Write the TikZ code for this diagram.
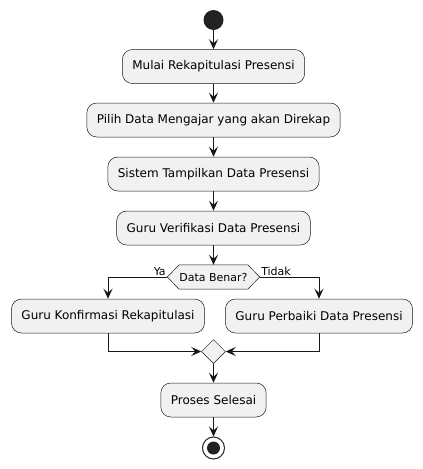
\documentclass[tikz,border=0pt]{standalone}
\usepackage{fontspec}
\setmainfont{DejaVu Sans}
\usepackage{tikz}
\usetikzlibrary{shapes.geometric}
\usetikzlibrary{arrows.meta}
\usetikzlibrary{calc}
\usetikzlibrary{backgrounds}
\definecolor{garis}{HTML}{181818}
\definecolor{isi}{HTML}{F1F1F1}
\definecolor{hitam}{HTML}{222222}

\begin{document}
\begin{tikzpicture}[x=1pt,y=-1pt,>={Stealth[length=10pt,width=9pt,inset=4pt]},
	act/.style={draw=garis,fill=isi,line width=0.5pt,rounded corners=10pt,
		minimum height=34pt,inner xsep=10pt,font=\fontsize{12}{14}\selectfont},
	cek/.style={minimum height=24pt,minimum width=68pt,inner sep=0pt,
		font=\fontsize{11}{13}\selectfont},
	gabung/.style={diamond,draw=garis,fill=isi,line width=0.5pt,minimum size=24pt,inner sep=0pt},
	mulai/.style={circle,fill=hitam,minimum size=20pt,inner sep=0pt},
	akhir/.style={circle,draw=hitam,fill=white,line width=1pt,minimum size=22pt,inner sep=0pt,
		path picture={\fill[hitam] (path picture bounding box.center) circle (6.5pt);}},
	label/.style={font=\fontsize{11}{13}\selectfont,inner sep=1pt}
	]
	\useasboundingbox (0,0) rectangle (423,469);
	\node[mulai] (start) at (213.5,20) {};
	\node[act] (rekap) at (213.5,66.5) {Mulai Rekapitulasi Presensi};
	\node[act] (pilih) at (213.5,120) {Pilih Data Mengajar yang akan Direkap};
	\node[act] (tampil) at (213.5,174) {Sistem Tampilkan Data Presensi};
	\node[act] (verif) at (213.5,228) {Guru Verifikasi Data Presensi};
	\node[cek] (benar) at (213.5,277) {Data Benar?};
	\coordinate (ya) at ($(benar.west)+(-12,0)$);
	\coordinate (tidak) at ($(benar.east)+(12,0)$);
	\begin{scope}[on background layer]
	\filldraw[draw=garis,fill=isi,line width=0.5pt] (ya) -- (benar.north west) -- (benar.north east)
		-- (tidak) -- (benar.south east) -- (benar.south west) -- cycle;
	\end{scope}
	\node[act] (konf) at (108,316) {Guru Konfirmasi Rekapitulasi};
	\node[act] (perbaiki) at (319,316) {Guru Perbaiki Data Presensi};
	\node[gabung] (gabung) at (213.5,351.5) {};
	\node[act] (selesai) at (213.5,400) {Proses Selesai};
	\node[akhir] (stop) at (213.5,448) {};

	\begin{scope}[draw=garis,line width=1pt]
	\draw[->] (start) -- (rekap);
	\draw[->] (rekap) -- (pilih);
	\draw[->] (pilih) -- (tampil);
	\draw[->] (tampil) -- (verif);
	\draw[->] (verif) -- (benar.north);
	\draw[->] (ya) node [label,above left] {Ya} -| (konf.north);
	\draw[->] (tidak) node [label,above right] {Tidak} -| (perbaiki.north);
	\draw[->] (konf.south) |- (gabung.west);
	\draw[->] (perbaiki.south) |- (gabung.east);
	\draw[->] (gabung) -- (selesai);
	\draw[->] (selesai) -- (stop);
	\end{scope}
\end{tikzpicture}
\end{document}
